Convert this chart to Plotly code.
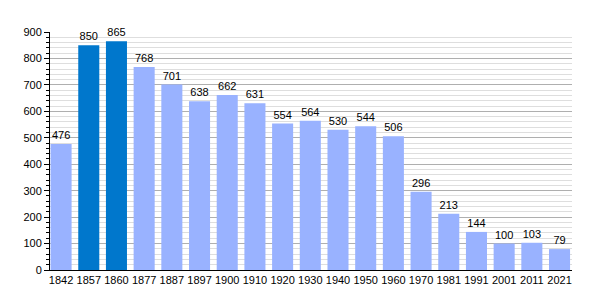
import plotly.graph_objects as go

years = ["1842","1857","1860","1877","1887","1897","1900","1910","1920","1930","1940","1950","1960","1970","1981","1991","2001","2011","2021"]
population = [476,850,865,768,701,638,662,631,554,564,530,544,506,296,213,144,100,103,79]
highlight = ["1857","1860"]

light = "rgb(153,178,255)"
dark = "rgb(0,119,204)"
colors = [dark if y in highlight else light for y in years]

fig = go.Figure(go.Bar(
    x=years, y=population, marker_color=colors, marker_line_width=0,
    text=[str(v) for v in population], textposition="outside",
    textfont=dict(color="black", size=11, family="Liberation Sans, Arial"),
    cliponaxis=False,
))
fig.update_layout(
    width=600, height=300, margin=dict(l=50, r=28, t=32, b=30),
    paper_bgcolor="white", plot_bgcolor="white", bargap=0.24,
    font=dict(family="Liberation Sans, Arial", size=11, color="black"),
    showlegend=False,
)
fig.update_xaxes(type="category", range=[-0.40, len(years) - 0.55],
                 showline=True, linecolor="black", linewidth=1,
                 ticks="", showgrid=False, tickfont=dict(size=11))
fig.update_yaxes(range=[0,900], dtick=100, showline=True, linecolor="black", linewidth=1,
                 ticks="outside", ticklen=5, tickcolor="black",
                 gridcolor="rgb(175,175,175)", gridwidth=1, zeroline=False,
                 minor=dict(dtick=20, ticks="outside", ticklen=3, tickcolor="black",
                            showgrid=True, gridcolor="rgb(222,222,222)", gridwidth=1),
                 tickfont=dict(size=11))
fig.write_html("out.html")
